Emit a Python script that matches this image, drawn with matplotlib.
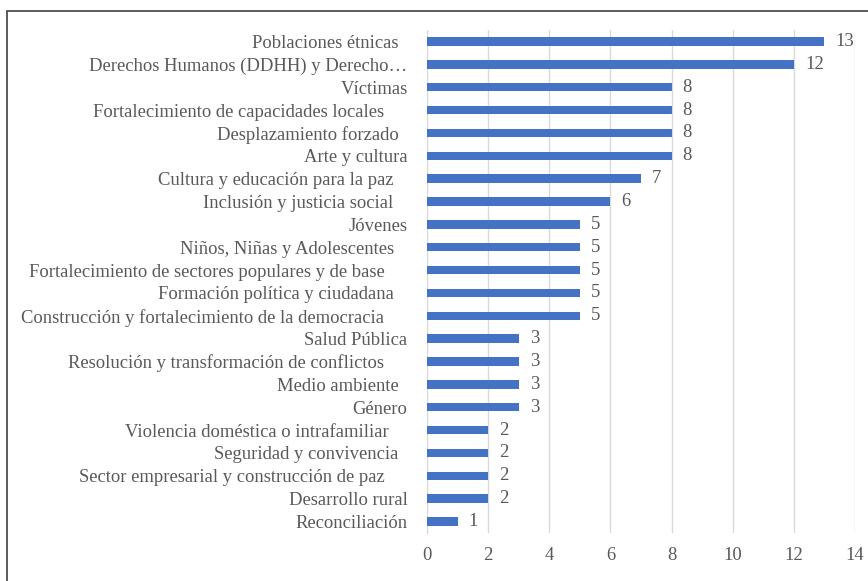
import matplotlib
matplotlib.use("Agg")
import matplotlib.pyplot as plt
from matplotlib.patches import Rectangle

categories = [
    "Poblaciones étnicas  ",
    "Derechos Humanos (DDHH) y Derecho…",
    "Víctimas",
    "Fortalecimiento de capacidades locales     ",
    "Desplazamiento forzado  ",
    "Arte y cultura",
    "Cultura y educación para la paz   ",
    "Inclusión y justicia social   ",
    "Jóvenes",
    "Niños, Niñas y Adolescentes   ",
    "Fortalecimiento de sectores populares y de base     ",
    "Formación política y ciudadana   ",
    "Construcción y fortalecimiento de la democracia     ",
    "Salud Pública",
    "Resolución y transformación de conflictos     ",
    "Medio ambiente  ",
    "Género",
    "Violencia doméstica o intrafamiliar    ",
    "Seguridad y convivencia  ",
    "Sector empresarial y construcción de paz     ",
    "Desarrollo rural",
    "Reconciliación",
]
values = [13, 12, 8, 8, 8, 8, 7, 6, 5, 5, 5, 5, 5, 3, 3, 3, 3, 2, 2, 2, 2, 1]
xticks = [0, 2, 4, 6, 8, 10, 12, 14]

plt.rcParams['font.family'] = ['Liberation Serif', 'DejaVu Serif']
text_color = '#595959'
bar_color = '#4472C4'
fs = 13.4

fig = plt.figure(figsize=(8.68, 5.81), dpi=100)
ax = fig.add_axes([427/868, 1-533/581, (855-427)/868, (533-30)/581])

n = len(categories)
ypos = list(range(n))
ax.barh(ypos, values, height=0.37, color=bar_color, zorder=3)
ax.set_ylim(n - 0.5, -0.5)
ax.set_xlim(0, 14)
ax.set_xticks(xticks)
ax.set_yticks(ypos)
ax.set_yticklabels(categories)
ax.tick_params(axis='both', length=0, colors=text_color, labelsize=fs)
ax.tick_params(axis='y', pad=14)
ax.tick_params(axis='x', pad=10)
ax.grid(axis='x', color='#d9d9d9', linewidth=1, zorder=0)
for s in ['top', 'right', 'bottom']:
    ax.spines[s].set_visible(False)
ax.spines['left'].set_color('#d9d9d9')

for y, v in zip(ypos, values):
    ax.annotate(str(v), (v, y), xytext=(8, 0), textcoords='offset points',
                va='center', ha='left', color=text_color, fontsize=fs)

rect = Rectangle((7/868, -0.1), 1.2, 1 - 11/581 + 0.1, transform=fig.transFigure,
                 fill=False, edgecolor='#404040', linewidth=1.2)
fig.patches.append(rect)

fig.savefig('out.png', dpi=100)
